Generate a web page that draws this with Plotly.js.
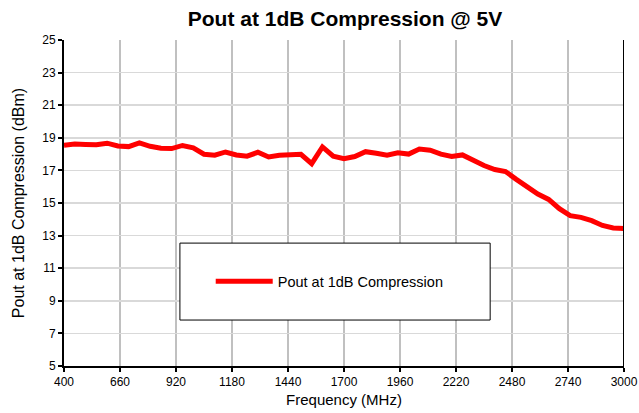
<!DOCTYPE html>
<html>
<head>
<meta charset="utf-8">
<script src="https://cdn.plot.ly/plotly-3.0.1.min.js"></script>
<style>html,body{margin:0;padding:0;background:#fff;}#chart{width:639px;height:413px;}</style>
</head>
<body>
<div id="chart"></div>
<script>
const frequencyMHz = [400,450,500,550,600,650,700,750,800,850,900,950,1000,1050,1100,1150,1200,1250,1300,1350,1400,1450,1500,1550,1600,1650,1700,1750,1800,1850,1900,1950,2000,2050,2100,2150,2200,2250,2300,2350,2400,2450,2500,2550,2600,2650,2700,2750,2800,2850,2900,2950,3000];
const poutDbm = [18.55,18.62,18.59,18.57,18.67,18.50,18.46,18.69,18.48,18.36,18.34,18.53,18.38,17.99,17.93,18.13,17.95,17.87,18.11,17.82,17.93,17.99,17.99,17.41,18.44,17.87,17.72,17.85,18.15,18.05,17.93,18.08,18.00,18.31,18.24,18.00,17.85,17.95,17.59,17.30,17.05,16.93,16.45,16.02,15.55,15.22,14.65,14.22,14.12,13.92,13.62,13.47,13.44];
const xTicks = [400,660,920,1180,1440,1700,1960,2220,2480,2740,3000];
const yTicks = [5,7,9,11,13,15,17,19,21,23,25];
const seriesName = "Pout at 1dB Compression";

const font = "Arial, 'Liberation Sans', sans-serif";
const trace = {
  x: frequencyMHz, y: poutDbm, type: "scatter", mode: "lines",
  name: seriesName,
  line: {color: "#ff0000", width: 5}
};
const layout = {
  width: 639, height: 413,
  margin: {l: 64, r: 15, t: 40, b: 47},
  paper_bgcolor: "#ffffff", plot_bgcolor: "#ffffff",
  font: {family: font, color: "#000000", size: 12},
  title: {text: "<b>Pout at 1dB Compression @ 5V</b>", font: {family: font, size: 21, color: "#000"}, x: 0.54, xanchor: "center", y: 0.955, yanchor: "middle"},
  xaxis: {
    range: [400, 3000], tickmode: "array", tickvals: xTicks, ticktext: xTicks.map(String),
    showline: true, linecolor: "#000", linewidth: 2,
    ticks: "outside", ticklen: 4, tickwidth: 2, tickcolor: "#000",
    showgrid: true, gridcolor: "#c0c0c0", gridwidth: 2.5,
    zeroline: false,
    tickfont: {size: 12},
    title: {text: "Frequency (MHz)", font: {size: 15}, standoff: 6}
  },
  yaxis: {
    range: [5, 25], tickmode: "array", tickvals: yTicks, ticktext: yTicks.map(String),
    showline: true, linecolor: "#000", linewidth: 2,
    ticks: "outside", ticklen: 4, tickwidth: 2, tickcolor: "#000",
    showgrid: true, gridcolor: "#d9d9d9", gridwidth: 1.5,
    zeroline: false,
    tickfont: {size: 12},
    title: {text: "Pout at 1dB Compression (dBm)", font: {size: 16}, standoff: 14}
  },
  shapes: [
    {type: "line", xref: "x", yref: "paper", x0: 3000, x1: 3000, y0: 0, y1: 1, line: {color: "#000", width: 2}, layer: "above"},
    {type: "rect", xref: "paper", yref: "paper", x0: 0.207, x1: 0.761, y0: 0.141, y1: 0.377, fillcolor: "#ffffff", line: {color: "#000", width: 1}, layer: "above"}
  ],
  showlegend: true,
  legend: {x: 0.262, xanchor: "left", y: 0.26, yanchor: "middle", bgcolor: "rgba(0,0,0,0)", borderwidth: 0, font: {size: 14.5}, itemwidth: 57}
};
Plotly.newPlot("chart", [trace], layout, {displayModeBar: false, staticPlot: true});
</script>
</body>
</html>
